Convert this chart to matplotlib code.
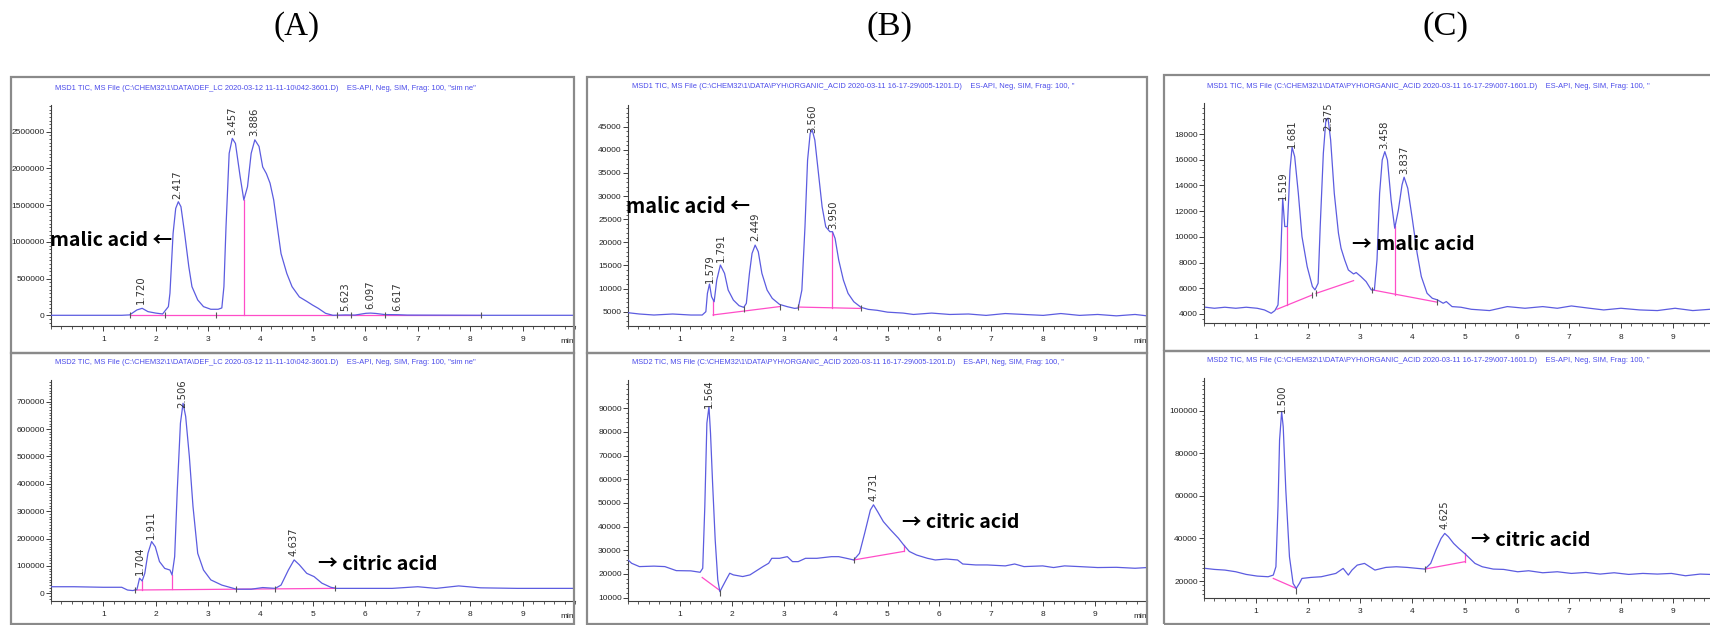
import numpy as np
import matplotlib
matplotlib.use("Agg")
import matplotlib.pyplot as plt
from matplotlib import font_manager
from matplotlib.patches import Rectangle
from matplotlib.ticker import FixedLocator, MultipleLocator, FuncFormatter

W, H, DPI = 1710, 625, 100

# ---------------- values ----------------
# (A) top, MSD1 TIC
a1_t = [0.0, 1.35, 1.50, 1.64, 1.74, 1.85, 2.00, 2.13, 2.24, 2.27, 2.33, 2.38, 2.43, 2.48,
        2.55, 2.63, 2.69, 2.80, 2.91, 3.05, 3.19, 3.26, 3.30, 3.34, 3.40, 3.46, 3.52, 3.61,
        3.68, 3.75, 3.82, 3.89, 3.97, 4.04, 4.11, 4.18, 4.25, 4.32, 4.39, 4.50, 4.60, 4.74,
        4.88, 4.99, 5.10, 5.24, 5.38, 5.62, 5.80, 6.01, 6.10, 6.20, 6.37, 6.62, 6.80, 8.20, 10.0]
a1_v = [0, 0, 5000, 73000, 95000, 50000, 30000, 18000, 118000, 300000, 1116000, 1456000,
        1547000, 1479000, 1116000, 662000, 390000, 209000, 118000, 82000, 82000, 100000,
        390000, 1207000, 2205000, 2409000, 2341000, 1887000, 1570000, 1751000, 2205000,
        2390000, 2300000, 2020000, 1930000, 1800000, 1570000, 1200000, 840000, 570000,
        390000, 250000, 190000, 140000, 95000, 27000, 0, 5000, 3000, 27000, 30000, 25000,
        10000, 8000, 3000, 0, 0]
a1_peaks = ["1.720", "2.417", "3.457", "3.886", "5.623", "6.097", "6.617"]
a1_yticks = [0, 500000, 1000000, 1500000, 2000000, 2500000]
a1_base = [(1.50, 0, 8.20, 0)]
a1_drops = [(3.68, 0)]
a1_marks = [(1.50, 0), (2.17, 0), (3.14, 0), (5.45, 0), (5.73, 0), (6.37, 0), (8.20, 0)]

# (A) bottom, MSD2 TIC
a2_t = [0.0, 0.44, 1.0, 1.35, 1.46, 1.56, 1.64, 1.69, 1.74, 1.79, 1.85, 1.92, 1.99, 2.07,
        2.17, 2.27, 2.31, 2.36, 2.41, 2.47, 2.52, 2.57, 2.64, 2.71, 2.80, 2.91, 3.05, 3.26,
        3.54, 3.82, 4.04, 4.28, 4.39, 4.53, 4.64, 4.74, 4.88, 5.02, 5.17, 5.34, 5.45, 5.94,
        6.51, 7.00, 7.35, 7.78, 8.20, 8.90, 10.0]
a2_v = [24000, 24000, 22000, 22000, 12000, 10000, 14000, 55000, 45000, 73000, 146000,
        189000, 170000, 116000, 91000, 85000, 67000, 134000, 378000, 621000, 694000, 646000,
        500000, 317000, 146000, 85000, 49000, 30000, 15000, 15000, 21000, 18000, 30000,
        85000, 122000, 104000, 73000, 61000, 37000, 22000, 18000, 18000, 18000, 24000,
        18000, 27000, 20000, 18000, 18000]
a2_peaks = ["1.704", "1.911", "2.506", "4.637"]
a2_yticks = [0, 100000, 200000, 300000, 400000, 500000, 600000, 700000]
a2_base = [(1.60, 12000, 5.42, 18000)]
a2_drops = [(1.74, 13000), (2.31, 14000)]
a2_marks = [(1.60, 12000), (3.54, 14000), (4.28, 16000), (5.42, 18000)]

# (B) top, MSD1 TIC
b1_t = [0.0, 0.22, 0.50, 0.86, 1.21, 1.43, 1.50, 1.53, 1.57, 1.61, 1.66, 1.71, 1.78, 1.86,
        1.93, 2.03, 2.14, 2.23, 2.28, 2.34, 2.39, 2.45, 2.51, 2.58, 2.68, 2.78, 2.92, 3.07,
        3.21, 3.28, 3.35, 3.41, 3.46, 3.51, 3.55, 3.60, 3.67, 3.74, 3.81, 3.89, 3.94, 3.99,
        4.06, 4.15, 4.24, 4.35, 4.49, 4.63, 4.80, 5.00, 5.30, 5.50, 5.85, 6.20, 6.56, 6.90,
        7.27, 7.63, 8.00, 8.34, 8.70, 9.05, 9.41, 9.77, 10.0]
b1_v = [4780, 4500, 4280, 4500, 4280, 4280, 5000, 8960, 10980, 8240, 7160, 11840, 15090,
        13290, 9680, 7520, 6300, 5940, 6800, 13290, 17600, 19400, 17970, 13290, 9680, 7880,
        6580, 6080, 5720, 5800, 9680, 23370, 37780, 43550, 44270, 42100, 34900, 27700, 23370,
        22300, 22300, 20850, 16170, 11840, 8960, 7160, 5940, 5500, 5300, 4900, 4700, 4400,
        4700, 4400, 4500, 4200, 4600, 4400, 4200, 4600, 4200, 4400, 4100, 4400, 4100]
b1_peaks = ["1.579", "1.791", "2.449", "3.560", "3.950"]
b1_yticks = [5000, 10000, 15000, 20000, 25000, 30000, 35000, 40000, 45000]
b1_base = [(1.64, 4300, 2.92, 6100), (3.28, 6000, 4.49, 5700)]
b1_drops = [(1.64, 4300), (3.94, 5800)]
b1_marks = [(2.23, 5500), (2.92, 6100), (3.28, 6000), (4.49, 5700)]

# (B) bottom, MSD2 TIC
b2_t = [0.0, 0.07, 0.22, 0.50, 0.71, 0.93, 1.21, 1.39, 1.44, 1.48, 1.52, 1.56, 1.59, 1.63,
        1.68, 1.73, 1.77, 1.82, 1.89, 1.96, 2.03, 2.21, 2.35, 2.50, 2.60, 2.71, 2.77, 2.92,
        3.07, 3.17, 3.28, 3.42, 3.64, 3.92, 4.06, 4.21, 4.35, 4.46, 4.56, 4.67, 4.73, 4.81,
        4.92, 5.06, 5.21, 5.31, 5.42, 5.56, 5.77, 5.92, 6.13, 6.35, 6.45, 6.70, 6.92, 7.27,
        7.45, 7.63, 7.99, 8.20, 8.41, 8.70, 9.05, 9.41, 9.77, 10.0]
b2_v = [25900, 24500, 23100, 23300, 23100, 21400, 21300, 20700, 22400, 48500, 83700, 90700,
        79400, 58300, 34400, 17500, 12500, 14600, 17500, 20300, 19600, 18900, 19600, 21700,
        23100, 24500, 26600, 26600, 27300, 25200, 25200, 26600, 26600, 27300, 27300, 26600,
        25900, 28700, 37200, 47000, 49200, 46300, 42100, 38600, 35100, 32300, 29500, 28000,
        26600, 25900, 26300, 25900, 24200, 23800, 23800, 23400, 24200, 23100, 23400, 22700,
        23400, 23100, 22700, 22800, 22400, 22700]
b2_peaks = ["1.564", "4.731"]
b2_yticks = [10000, 20000, 30000, 40000, 50000, 60000, 70000, 80000, 90000]
b2_base = [(1.43, 18500, 1.77, 13000), (4.35, 25900, 5.31, 29500)]
b2_drops = [(5.31, 29500)]
b2_marks = [(1.77, 12000), (4.35, 25900)]

# (C) top, MSD1 TIC
c1_t = [0.03, 0.20, 0.40, 0.61, 0.81, 1.02, 1.16, 1.29, 1.36, 1.42, 1.47, 1.51, 1.55, 1.60,
        1.65, 1.69, 1.74, 1.81, 1.88, 1.98, 2.08, 2.13, 2.19, 2.23, 2.29, 2.34, 2.38, 2.43,
        2.50, 2.58, 2.63, 2.70, 2.77, 2.87, 2.92, 3.01, 3.11, 3.21, 3.27, 3.32, 3.37, 3.42,
        3.47, 3.52, 3.59, 3.66, 3.73, 3.80, 3.84, 3.91, 4.00, 4.09, 4.17, 4.28, 4.38, 4.48,
        4.59, 4.65, 4.76, 4.93, 5.13, 5.48, 5.82, 6.16, 6.50, 6.78, 7.05, 7.40, 7.67, 8.00,
        8.36, 8.70, 9.04, 9.38, 9.71]
c1_v = [4520, 4440, 4520, 4440, 4520, 4440, 4310, 4050, 4260, 4700, 8200, 13000, 10800,
        10800, 15200, 16970, 16240, 13390, 10020, 7680, 6130, 5870, 6390, 10800, 16500,
        19150, 19230, 17540, 13390, 10280, 9110, 8200, 7420, 7110, 7220, 6910, 6520, 5870,
        5870, 8200, 13390, 15980, 16630, 15980, 12870, 10670, 12090, 14040, 14640, 13780,
        11320, 8720, 6910, 5610, 5220, 5090, 4830, 4960, 4570, 4520, 4360, 4260, 4570, 4440,
        4570, 4440, 4620, 4440, 4310, 4440, 4310, 4260, 4440, 4260, 4360]
c1_peaks = ["1.519", "1.681", "2.375", "3.458", "3.837"]
c1_yticks = [4000, 6000, 8000, 10000, 12000, 14000, 16000, 18000]
c1_base = [(1.40, 4360, 2.08, 5480), (2.15, 5600, 2.87, 6590), (3.23, 5870, 4.48, 4910)]
c1_drops = [(1.59, 4680), (3.67, 5440)]
c1_marks = [(2.08, 5480), (2.15, 5600), (3.23, 5870), (4.48, 4910)]

# (C) bottom, MSD2 TIC
c2_t = [0.03, 0.20, 0.40, 0.61, 0.81, 1.02, 1.23, 1.33, 1.38, 1.42, 1.45, 1.49, 1.52, 1.57,
        1.64, 1.71, 1.77, 1.83, 1.88, 2.05, 2.25, 2.39, 2.53, 2.67, 2.72, 2.77, 2.84, 2.94,
        3.08, 3.18, 3.28, 3.49, 3.69, 3.90, 4.10, 4.24, 4.35, 4.45, 4.55, 4.62, 4.69, 4.79,
        4.89, 5.00, 5.10, 5.20, 5.34, 5.55, 5.75, 6.02, 6.23, 6.50, 6.78, 7.05, 7.33, 7.60,
        7.87, 8.15, 8.42, 8.70, 8.97, 9.24, 9.52, 9.71]
c2_v = [25950, 25480, 25170, 24380, 23130, 22350, 22040, 22820, 26730, 54900, 86200, 99500,
        92500, 62700, 31400, 18900, 16560, 18900, 21250, 21720, 22040, 22820, 23600, 25950,
        24380, 22820, 25170, 27500, 28300, 26730, 25170, 26420, 26730, 26420, 25950, 25640,
        28300, 34560, 40040, 42390, 40820, 37690, 35340, 33000, 30650, 28300, 26730, 25640,
        25480, 24380, 24850, 23910, 24380, 23600, 24070, 23290, 23910, 23130, 23600, 23290,
        23600, 22500, 23290, 23130]
c2_peaks = ["1.500", "4.625"]
c2_yticks = [20000, 40000, 60000, 80000, 100000]
c2_base = [(1.33, 21250, 1.77, 16560), (4.24, 25640, 5.00, 29080)]
c2_drops = [(5.00, 29080)]
c2_marks = [(1.77, 15500), (4.24, 25640)]

x_ticks = [1, 2, 3, 4, 5, 6, 7, 8, 9]

path_a = r"C:\CHEM32\1\DATA\DEF_LC 2020-03-12 11-11-10\042-3601.D"
path_b = r"C:\CHEM32\1\DATA\PYH\ORGANIC_ACID 2020-03-11 16-17-29\005-1201.D"
path_c = r"C:\CHEM32\1\DATA\PYH\ORGANIC_ACID 2020-03-11 16-17-29\007-1601.D"
a1_title = 'MSD1 TIC, MS File (' + path_a + ')    ES-API, Neg, SIM, Frag: 100, "sim ne"'
a2_title = 'MSD2 TIC, MS File (' + path_a + ')    ES-API, Neg, SIM, Frag: 100, "sim ne"'
b1_title = 'MSD1 TIC, MS File (' + path_b + ')    ES-API, Neg, SIM, Frag: 100, "'
b2_title = 'MSD2 TIC, MS File (' + path_b + ')    ES-API, Neg, SIM, Frag: 100, "'
c1_title = 'MSD1 TIC, MS File (' + path_c + ')    ES-API, Neg, SIM, Frag: 100, "'
c2_title = 'MSD2 TIC, MS File (' + path_c + ')    ES-API, Neg, SIM, Frag: 100, "'

# ---------------- fonts ----------------
installed = {f.name for f in font_manager.fontManager.ttflist}
narrow = 'Liberation Sans Narrow' if 'Liberation Sans Narrow' in installed else 'Liberation Sans'
tick_fs = 7.2 if narrow == 'Liberation Sans Narrow' else 6.0
bold_fam = ['Noto Sans CJK KR', 'DejaVu Sans']

CURVE = '#5c5ce0'
PINK = '#ff4dc8'
AXC = '#404040'
BLUE = '#4b4bea'

fig = plt.figure(figsize=(W / DPI, H / DPI), dpi=DPI)
fig.patch.set_facecolor('white')


def box(x0, y0, x1, y1):
    return [x0 / W, 1 - y1 / H, (x1 - x0) / W, (y1 - y0) / H]


# panel frames
for (x0, y0, x1, y1) in [(11, 77, 574, 353), (11, 353, 574, 624),
                         (587, 77, 1147, 353), (587, 353, 1147, 624),
                         (1164, 75, 1712, 351), (1164, 351, 1712, 624)]:
    fig.patches.append(Rectangle((x0 / W, 1 - y1 / H), (x1 - x0) / W, (y1 - y0) / H,
                                 transform=fig.transFigure, fill=False,
                                 edgecolor='#8a8a8a', lw=1.6))

panels = [
    (a1_t, a1_v, a1_peaks, a1_yticks, a1_base, a1_drops, a1_marks, a1_title,
     (51, 105, 575, 325.7), (0, 10), (-141700, 2864000), 10, (55, 88, 420)),
    (a2_t, a2_v, a2_peaks, a2_yticks, a2_base, a2_drops, a2_marks, a2_title,
     (51, 380, 575, 600.7), (0, 10), (-27000, 779000), 10, (55, 362, 420)),
    (b1_t, b1_v, b1_peaks, b1_yticks, b1_base, b1_drops, b1_marks, b1_title,
     (628, 105, 1147, 325.7), (0, 10), (1970, 49700), 5, (632, 87, 440)),
    (b2_t, b2_v, b2_peaks, b2_yticks, b2_base, b2_drops, b2_marks, b2_title,
     (628, 380, 1147, 600.7), (0, 10), (8700, 101900), 5, (632, 363, 438)),
    (c1_t, c1_v, c1_peaks, c1_yticks, c1_base, c1_drops, c1_marks, c1_title,
     (1204, 103.3, 1710, 323.3), (0, 9.71), (3270, 20390), 5, (1207, 87, 441)),
    (c2_t, c2_v, c2_peaks, c2_yticks, c2_base, c2_drops, c2_marks, c2_title,
     (1204, 378, 1710, 597.7), (0, 9.71), (12200, 115350), 10, (1207, 361, 441)),
]

fits = []
peak_labels = []
for (t, v, peaks, yticks, base, drops, marks, title, rect, xl, yl, nminor, trect) in panels:
    ax = fig.add_axes(box(*rect))
    ax.set_facecolor('none')
    ax.plot(t, v, color=CURVE, lw=0.9, zorder=3)
    for (t0, v0, t1, v1) in base:
        ax.plot([t0, t1], [v0, v1], color=PINK, lw=0.9, zorder=2)
    for (td, vb) in drops:
        ax.plot([td, td], [vb, np.interp(td, t, v)], color=PINK, lw=0.9, zorder=2)
    for (tm, vm) in marks:
        ax.plot([tm], [vm], marker='|', ms=5, mew=0.8, color='#555555', zorder=4)
    for lab in peaks:
        tp = float(lab)
        an = ax.annotate(lab, xy=(tp, np.interp(tp, t, v)), xytext=(0, 3),
                         textcoords='offset points', rotation=90, ha='center', va='bottom',
                         fontsize=7.2, color='#333333', family='DejaVu Sans',
                         annotation_clip=False, zorder=5)
        peak_labels.append((ax, an))
    ax.set_xlim(*xl)
    ax.set_ylim(*yl)
    for s in ['top', 'right']:
        ax.spines[s].set_visible(False)
    for s in ['left', 'bottom']:
        ax.spines[s].set_color(AXC)
        ax.spines[s].set_linewidth(0.8)
    ax.xaxis.set_major_locator(FixedLocator(x_ticks))
    ax.xaxis.set_minor_locator(MultipleLocator(0.2))
    ax.yaxis.set_major_locator(FixedLocator(yticks))
    ax.yaxis.set_minor_locator(MultipleLocator((yticks[1] - yticks[0]) / nminor))
    ax.yaxis.set_major_formatter(FuncFormatter(lambda y, p: '%d' % y))
    ax.tick_params(which='major', length=3.5, width=0.7, color=AXC, labelcolor='#222222',
                   labelsize=tick_fs)
    ax.tick_params(which='minor', length=1.8, width=0.6, color=AXC)
    ax.tick_params(axis='y', which='major', pad=1)
    ax.tick_params(axis='x', which='major', pad=4)
    for lab in ax.get_xticklabels() + ax.get_yticklabels():
        lab.set_family(narrow)
    if xl[1] >= 10:
        # 'min' sits where the 10 label would be, same row as the tick labels
        ax.annotate('min', xy=(9.86, 0), xycoords=ax.get_xaxis_transform(),
                    xytext=(0, -11.5), textcoords='offset points', ha='center',
                    va='center', fontsize=tick_fs, family=narrow, color='#222222')
    tx0, ty, tw = trect
    txt = fig.text(tx0 / W, 1 - ty / H, title, ha='left', va='center', color=BLUE,
                   fontsize=6, family=narrow)
    fits.append((txt, tw))

# compound annotations
for (s, x0, yc, w) in [("malic acid \u2190", 50, 240, 122), ("\u2192 citric acid", 318, 565, 120),
                       ("malic acid \u2190", 626, 207, 124), ("\u2192 citric acid", 902, 523, 118),
                       ("\u2192 malic acid", 1352, 245, 123), ("\u2192 citric acid", 1471, 540, 120)]:
    txt = fig.text(x0 / W, 1 - yc / H, s, ha='left', va='center', fontsize=13,
                   fontweight='bold', family=bold_fam, color='black', zorder=10)
    fits.append((txt, w))

for (s, xc) in [("(A)", 297), ("(B)", 889), ("(C)", 1445)]:
    txt = fig.text(xc / W, 1 - 27 / H, s, ha='center', va='center', fontsize=24,
                   family='Liberation Serif', color='black')
    fits.append((txt, 46))

fig.canvas.draw()
r = fig.canvas.get_renderer()
for txt, w in fits:
    bb = txt.get_window_extent(r)
    txt.set_fontsize(txt.get_fontsize() * w / bb.width)

# keep peak labels inside the plot area, like the data system does
for ax, an in peak_labels:
    bb = an.get_window_extent(r)
    top = ax.get_window_extent(r).y1 + 1
    if bb.y1 > top:
        dy = (bb.y1 - top) * 72.0 / DPI
        an.xyann = (0, 3 - dy)

fig.savefig('out.png', dpi=DPI, facecolor='white')
